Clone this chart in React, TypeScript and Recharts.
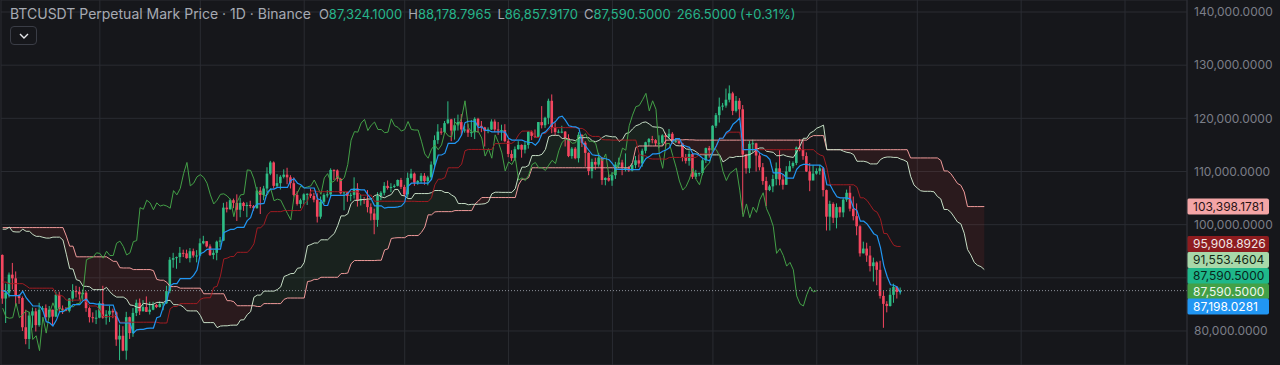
import React from "react";
import {
  ComposedChart,
  Bar,
  Line,
  Area,
  XAxis,
  YAxis,
  CartesianGrid,
  ReferenceLine,
} from "recharts";

// Daily mark-price candles, thousands of USDT, 2024-12-14 .. 2025-11-26
const firstDay = "2024-12-14";

const opens = [
  // Dec 14-31
  101.4, 101.4, 104.3, 106.1, 106.0, 100.2, 97.5, 97.8, 97.3, 95.2,
  94.9, 98.7, 99.4, 95.8, 94.2, 95.2, 93.6, 92.8,
  // Jan
  93.6, 94.6, 97.0, 98.1, 98.2, 98.3, 102.2, 96.9, 95.0, 92.5,
  94.7, 94.5, 94.5, 94.5, 96.5, 100.5, 99.9, 104.1, 104.6, 101.3,
  102.0, 106.1, 103.7, 104.0, 104.7, 104.7, 102.6, 102.1, 101.3, 103.7,
  104.7,
  // Feb
  102.4, 100.6, 97.7, 101.4, 97.9, 96.6, 96.6, 96.5, 96.5, 96.4,
  97.4, 95.8, 97.9, 96.6, 97.5, 97.6, 96.1, 95.8, 95.6, 96.6,
  98.3, 96.2, 96.6, 96.3, 91.6, 88.7, 84.3, 84.7,
  // Mar
  84.4, 86.1, 94.3, 86.1, 87.2, 90.6, 89.9, 86.7, 86.2, 80.7,
  78.5, 82.9, 83.7, 81.1, 84.0, 84.3, 82.6, 84.0, 82.7, 86.8,
  84.2, 84.0, 83.8, 86.1, 87.5, 87.4, 86.9, 87.2, 84.3, 82.6,
  82.4,
  // Apr
  82.5, 85.2, 82.5, 83.1, 83.8, 83.5, 78.4, 79.1, 76.3, 82.6,
  79.6, 83.4, 85.3, 83.7, 84.5, 83.6, 84.0, 84.9, 84.5, 85.1,
  85.2, 87.5, 93.4, 93.7, 93.9, 94.7, 94.6, 93.7, 95.0, 94.2,
  // May
  94.2, 96.5, 96.9, 95.9, 94.3, 94.7, 96.8, 97.0, 103.2, 102.9,
  104.6, 104.1, 102.8, 104.1, 103.5, 103.7, 103.5, 103.1, 106.4, 105.6,
  106.8, 109.6, 111.7, 107.3, 107.8, 109.0, 109.4, 108.9, 107.8, 105.6,
  103.9,
  // Jun
  104.6, 105.7, 105.8, 105.4, 104.7, 101.5, 104.3, 105.6, 105.7, 110.3,
  110.2, 108.6, 105.9, 106.1, 105.4, 105.6, 106.8, 104.5, 104.8, 104.6,
  103.3, 102.1, 100.9, 105.4, 106.0, 107.3, 106.9, 107.1, 107.3, 108.4,
  // Jul
  107.1, 105.7, 108.8, 109.6, 107.9, 108.2, 109.2, 108.2, 108.9, 111.3,
  115.9, 117.5, 117.4, 119.1, 119.8, 117.7, 118.7, 119.3, 117.9, 117.9,
  117.3, 117.4, 119.9, 118.6, 118.3, 117.6, 117.9, 119.4, 117.9, 117.8,
  117.8,
  // Aug
  115.7, 113.3, 112.5, 114.2, 115.0, 114.1, 115.0, 117.5, 116.7, 116.5,
  119.3, 118.7, 120.1, 123.3, 118.3, 117.4, 117.5, 117.5, 116.3, 112.9,
  114.3, 112.5, 116.9, 115.4, 113.5, 110.1, 111.8, 111.3, 112.6, 108.4,
  108.8,
  // Sep
  108.3, 109.3, 111.3, 111.7, 110.7, 110.7, 110.2, 111.2, 112.1, 111.5,
  113.9, 115.5, 116.1, 115.9, 115.3, 115.4, 116.8, 116.5, 117.1, 115.7,
  115.7, 115.3, 112.7, 112.0, 113.3, 109.0, 109.7, 109.7, 112.1, 114.4,
  // Oct
  114.0, 118.6, 120.6, 122.2, 122.4, 123.5, 124.7, 121.4, 123.3, 121.7,
  113.2, 110.6, 115.2, 115.3, 113.0, 110.8, 108.2, 106.5, 107.2, 108.6,
  110.6, 108.5, 107.5, 110.0, 111.0, 111.6, 114.5, 114.1, 112.9, 110.0,
  108.3,
  // Nov
  109.6, 110.1, 110.6, 106.5, 101.5, 103.9, 101.3, 103.3, 102.3, 104.7,
  106.0, 103.0, 101.6, 99.7, 94.6, 95.5, 94.2, 92.2, 92.9, 91.5,
  86.6, 85.1, 84.7, 86.8, 88.3, 87.3241,
];

const highs = [
  // Dec 14-31
  102.6, 105.1, 107.8, 108.4, 106.5, 102.8, 98.2, 99.5, 97.4, 96.4,
  99.5, 99.9, 99.9, 97.3, 95.5, 95.2, 94.9, 96.2,
  // Jan
  94.9, 97.8, 98.9, 98.7, 98.8, 102.5, 102.7, 97.2, 95.3, 95.8,
  95.0, 95.4, 95.9, 97.4, 100.7, 100.9, 105.9, 104.9, 106.3, 109.6,
  107.2, 106.4, 106.9, 107.1, 105.3, 105.5, 103.2, 103.8, 104.8, 106.5,
  106.1,
  // Feb
  102.8, 101.5, 102.5, 101.7, 99.0, 99.2, 100.1, 96.9, 97.3, 98.3,
  98.5, 98.1, 98.0, 98.8, 97.9, 97.7, 97.0, 96.0, 96.9, 98.7,
  99.5, 96.9, 96.9, 96.5, 92.5, 89.3, 87.0, 85.1,
  // Mar
  86.6, 95.0, 94.4, 88.9, 91.0, 92.8, 91.2, 86.9, 86.5, 84.0,
  83.6, 84.4, 84.3, 85.3, 84.7, 85.0, 84.7, 84.0, 87.4, 87.4,
  84.8, 84.5, 86.2, 88.8, 88.5, 88.3, 87.8, 87.5, 84.6, 83.5,
  83.9,
  // Apr
  85.6, 88.5, 83.9, 84.7, 84.2, 83.7, 81.2, 80.9, 83.6, 82.7,
  84.3, 85.9, 86.1, 85.8, 86.5, 85.5, 85.5, 85.1, 85.6, 85.3,
  88.5, 93.9, 94.7, 94.0, 95.8, 95.3, 95.3, 95.6, 95.5, 95.2,
  // May
  97.4, 97.9, 96.9, 96.3, 95.2, 97.0, 97.7, 104.1, 104.3, 104.9,
  104.9, 105.7, 105.0, 104.3, 104.2, 104.5, 103.7, 107.1, 107.1, 107.3,
  110.8, 112.0, 111.9, 109.5, 109.3, 110.4, 110.7, 109.3, 108.9, 106.3,
  104.9,
  // Jun
  105.9, 105.9, 106.8, 106.0, 105.9, 105.3, 105.9, 106.5, 110.6, 110.4,
  110.4, 108.8, 106.2, 106.2, 106.0, 108.9, 107.8, 105.6, 105.2, 106.5,
  104.0, 103.0, 106.1, 106.3, 108.0, 108.3, 107.8, 107.6, 108.5, 108.8,
  // Jul
  107.5, 109.8, 110.5, 109.8, 108.4, 109.7, 109.7, 109.2, 111.9, 116.8,
  118.9, 118.2, 119.5, 123.2, 119.9, 120.0, 120.7, 120.8, 118.6, 118.9,
  119.7, 120.2, 120.1, 119.5, 118.4, 118.3, 119.8, 119.8, 119.3, 118.8,
  118.9,
  // Aug
  116.1, 114.0, 114.7, 115.7, 115.1, 115.7, 117.6, 117.7, 117.9, 119.3,
  122.3, 120.3, 123.7, 124.5, 119.2, 117.9, 118.6, 117.6, 117.0, 114.6,
  114.6, 117.4, 117.0, 115.7, 113.6, 112.4, 112.6, 113.5, 112.7, 108.9,
  109.5,
  // Sep
  109.9, 111.8, 112.6, 112.2, 113.4, 111.0, 111.6, 112.9, 113.2, 114.3,
  115.6, 116.3, 116.7, 116.1, 116.8, 117.0, 117.3, 118.0, 117.4, 116.3,
  115.8, 115.4, 113.3, 114.0, 113.4, 110.3, 109.8, 112.3, 114.5, 114.8,
  // Oct
  118.7, 121.0, 123.9, 122.9, 125.6, 126.2, 125.0, 124.2, 123.8, 122.5,
  113.3, 115.8, 116.0, 115.4, 113.6, 111.6, 109.0, 107.5, 109.4, 111.7,
  114.0, 109.5, 111.0, 112.0, 111.9, 114.7, 116.1, 116.0, 113.6, 111.6,
  111.2,
  // Nov
  110.6, 111.2, 110.8, 106.6, 104.5, 104.2, 104.0, 103.4, 105.0, 106.6,
  107.3, 105.3, 104.0, 99.9, 96.8, 96.6, 96.0, 93.8, 93.1, 93.2,
  87.5, 85.6, 88.1, 88.9, 88.4, 88.1788,
];

const lows = [
  // Dec 14-31
  100.6, 101.2, 103.3, 105.3, 100.0, 95.7, 92.2, 96.4, 94.2, 92.4,
  93.4, 97.6, 95.2, 93.4, 94.0, 93.0, 91.9, 92.5,
  // Jan
  92.8, 94.3, 96.0, 97.5, 97.3, 97.9, 96.1, 92.5, 91.2, 92.2,
  93.8, 93.7, 89.3, 94.3, 96.5, 97.3, 99.9, 102.3, 99.6, 99.5,
  100.1, 103.3, 101.3, 102.8, 104.1, 102.5, 97.8, 100.3, 101.3, 103.3,
  101.6,
  // Feb
  100.3, 96.2, 91.2, 96.2, 96.2, 95.7, 95.6, 95.7, 94.7, 95.3,
  94.9, 94.1, 95.2, 96.3, 97.3, 96.0, 95.2, 93.4, 95.1, 96.4,
  94.8, 96.1, 95.2, 91.2, 86.1, 82.3, 82.8, 78.3,
  // Mar
  83.9, 85.0, 85.1, 81.5, 86.3, 87.8, 84.7, 85.1, 80.0, 77.5,
  76.6, 80.6, 79.9, 80.8, 83.7, 82.0, 82.5, 81.1, 82.6, 83.6,
  83.2, 83.7, 83.5, 85.5, 86.3, 85.9, 85.8, 83.6, 81.6, 81.6,
  81.3,
  // Apr
  82.4, 82.3, 81.2, 81.7, 82.4, 77.2, 74.5, 76.2, 74.6, 78.5,
  78.9, 82.8, 83.0, 83.7, 83.6, 83.1, 83.9, 84.3, 84.4, 83.9,
  85.1, 87.1, 91.9, 91.7, 92.8, 93.9, 93.6, 92.9, 93.8, 92.9,
  // May
  94.1, 96.3, 95.7, 94.1, 93.5, 93.3, 95.8, 96.9, 102.3, 102.8,
  103.1, 100.7, 101.4, 102.6, 101.4, 103.1, 102.6, 103.0, 102.0, 104.6,
  106.1, 109.3, 106.8, 106.9, 106.6, 108.7, 107.6, 106.8, 105.3, 103.6,
  103.1,
  // Jun
  103.8, 103.7, 105.0, 104.2, 100.4, 101.1, 103.9, 105.1, 105.3, 108.4,
  108.1, 105.7, 102.7, 104.3, 104.4, 104.9, 103.4, 103.6, 103.9, 102.3,
  100.8, 98.2, 99.6, 104.6, 105.5, 106.6, 106.1, 106.9, 107.2, 106.7,
  // Jul
  105.3, 105.1, 108.5, 107.3, 107.5, 107.8, 107.5, 107.4, 108.4, 110.6,
  115.2, 116.9, 117.3, 118.9, 115.7, 116.0, 117.7, 116.8, 117.3, 116.5,
  116.5, 116.1, 117.3, 117.4, 114.7, 117.2, 117.8, 117.4, 116.9, 115.8,
  115.5,
  // Aug
  112.7, 112.0, 112.0, 114.1, 112.6, 113.4, 114.3, 115.9, 116.3, 116.5,
  118.1, 118.2, 118.9, 117.2, 116.8, 117.2, 117.2, 114.7, 112.7, 112.4,
  112.3, 111.7, 114.6, 110.9, 109.3, 108.7, 110.3, 110.9, 107.5, 107.4,
  108.1,
  // Sep
  107.3, 108.6, 110.6, 109.3, 110.0, 109.9, 110.0, 110.6, 110.8, 110.9,
  113.4, 114.8, 115.3, 114.8, 114.4, 114.8, 114.7, 116.1, 115.2, 115.4,
  115.2, 111.9, 111.5, 111.1, 108.6, 108.6, 109.1, 109.3, 111.6, 112.6,
  // Oct
  113.9, 118.2, 119.2, 121.5, 122.0, 123.0, 120.6, 121.1, 119.7, 102.0,
  109.6, 109.7, 113.6, 110.0, 110.2, 107.5, 103.5, 106.3, 106.1, 107.4,
  107.4, 106.6, 107.5, 109.9, 110.6, 111.2, 113.8, 112.2, 109.9, 106.3,
  108.7,
  // Nov
  109.4, 109.4, 105.3, 98.9, 98.9, 100.3, 99.3, 101.4, 101.4, 104.3,
  102.5, 100.8, 98.0, 94.0, 94.6, 93.0, 91.2, 89.3, 88.6, 86.1,
  80.6, 83.5, 84.6, 85.3, 86.1, 86.8579,
];

const closes = [
  // Dec 14-31
  101.4, 104.3, 106.1, 106.0, 100.2, 97.5, 97.8, 97.3, 95.2, 94.9,
  98.7, 99.4, 95.8, 94.2, 95.2, 93.6, 92.8, 93.6,
  // Jan
  94.6, 97.0, 98.1, 98.2, 98.3, 102.2, 96.9, 95.0, 92.5, 94.7,
  94.5, 94.5, 94.5, 96.5, 100.5, 99.9, 104.1, 104.6, 101.3, 102.0,
  106.1, 103.7, 104.0, 104.7, 104.7, 102.6, 102.1, 101.3, 103.7, 104.7,
  102.4,
  // Feb
  100.6, 97.7, 101.4, 97.9, 96.6, 96.6, 96.5, 96.5, 96.4, 97.4,
  95.8, 97.9, 96.6, 97.5, 97.6, 96.1, 95.8, 95.6, 96.6, 98.3,
  96.2, 96.6, 96.3, 91.6, 88.7, 84.3, 84.7, 84.4,
  // Mar
  86.1, 94.3, 86.1, 87.2, 90.6, 89.9, 86.7, 86.2, 80.7, 78.5,
  82.9, 83.7, 81.1, 84.0, 84.3, 82.6, 84.0, 82.7, 86.8, 84.2,
  84.0, 83.8, 86.1, 87.5, 87.4, 86.9, 87.2, 84.3, 82.6, 82.4,
  82.5,
  // Apr
  85.2, 82.5, 83.1, 83.8, 83.5, 78.4, 79.1, 76.3, 82.6, 79.6,
  83.4, 85.3, 83.7, 84.5, 83.6, 84.0, 84.9, 84.5, 85.1, 85.2,
  87.5, 93.4, 93.7, 93.9, 94.7, 94.6, 93.7, 95.0, 94.2, 94.2,
  // May
  96.5, 96.9, 95.9, 94.3, 94.7, 96.8, 97.0, 103.2, 102.9, 104.6,
  104.1, 102.8, 104.1, 103.5, 103.7, 103.5, 103.1, 106.4, 105.6, 106.8,
  109.6, 111.7, 107.3, 107.8, 109.0, 109.4, 108.9, 107.8, 105.6, 103.9,
  104.6,
  // Jun
  105.7, 105.8, 105.4, 104.7, 101.5, 104.3, 105.6, 105.7, 110.3, 110.2,
  108.6, 105.9, 106.1, 105.4, 105.6, 106.8, 104.5, 104.8, 104.6, 103.3,
  102.1, 100.9, 105.4, 106.0, 107.3, 106.9, 107.1, 107.3, 108.4, 107.1,
  // Jul
  105.7, 108.8, 109.6, 107.9, 108.2, 109.2, 108.2, 108.9, 111.3, 115.9,
  117.5, 117.4, 119.1, 119.8, 117.7, 118.7, 119.3, 117.9, 117.9, 117.3,
  117.4, 119.9, 118.6, 118.3, 117.6, 117.9, 119.4, 117.9, 117.8, 117.8,
  115.7,
  // Aug
  113.3, 112.5, 114.2, 115.0, 114.1, 115.0, 117.5, 116.7, 116.5, 119.3,
  118.7, 120.1, 123.3, 118.3, 117.4, 117.5, 117.5, 116.3, 112.9, 114.3,
  112.5, 116.9, 115.4, 113.5, 110.1, 111.8, 111.3, 112.6, 108.4, 108.8,
  108.3,
  // Sep
  109.3, 111.3, 111.7, 110.7, 110.7, 110.2, 111.2, 112.1, 111.5, 113.9,
  115.5, 116.1, 115.9, 115.3, 115.4, 116.8, 116.5, 117.1, 115.7, 115.7,
  115.3, 112.7, 112.0, 113.3, 109.0, 109.7, 109.7, 112.1, 114.4, 114.0,
  // Oct
  118.6, 120.6, 122.2, 122.4, 123.5, 124.7, 121.4, 123.3, 121.7, 113.2,
  110.6, 115.2, 115.3, 113.0, 110.8, 108.2, 106.5, 107.2, 108.6, 110.6,
  108.5, 107.5, 110.0, 111.0, 111.6, 114.5, 114.1, 112.9, 110.0, 108.3,
  109.6,
  // Nov
  110.1, 110.6, 106.5, 101.5, 103.9, 101.3, 103.3, 102.3, 104.7, 106.0,
  103.0, 101.6, 99.7, 94.6, 95.5, 94.2, 92.2, 92.9, 91.5, 86.6,
  85.1, 84.7, 86.8, 88.3, 87.3241, 87.5905,
];

// values printed in the price-scale tags (spanB, base, spanA, price, lagging, conversion)
const tagValues = [103398.1781, 95908.8926, 91553.4604, 87590.5, 87590.5, 87198.0281];
const priceTicks = [80, 90, 100, 110, 120, 130, 140];

const legend = [
  ["O", "87,324.1000"],
  ["H", "88,178.7965"],
  ["L", "86,857.9170"],
  ["C", "87,590.5000"],
];
const change = "266.5000 (+0.31%)";

// Ichimoku settings
const CONV = 9;
const BASE = 26;
const SPAN_B = 52;
const SHIFT = 25;

const FIRST_ROW = "2025-03-03";
const SLOTS = 354;

const BG = "#16171b";
const GRID = "#2a2c32";
const UP = "#2ebd85";
const DOWN = "#f4465f";
const FONT = "Inter, 'Noto Sans', sans-serif";

const DAY = 86400000;
const t0 = Date.parse(firstDay + "T00:00:00Z");
const dateAt = (i: number) => new Date(t0 + i * DAY).toISOString().slice(0, 10);

function mid(i: number, len: number) {
  if (i - len + 1 < 0) return null;
  let hi = -Infinity;
  let lo = Infinity;
  for (let k = i - len + 1; k <= i; k++) {
    hi = Math.max(hi, highs[k]);
    lo = Math.min(lo, lows[k]);
  }
  return (hi + lo) / 2;
}

const firstIndex = Math.round((Date.parse(FIRST_ROW + "T00:00:00Z") - t0) / DAY);

const rows: any[] = [];
for (let r = 0; r < SLOTS; r++) {
  const i = firstIndex + r;
  const row: any = { date: dateAt(i) };
  if (i < closes.length) {
    row.o = opens[i];
    row.h = highs[i];
    row.l = lows[i];
    row.c = closes[i];
    row.range = [lows[i], highs[i]];
    row.conv = mid(i, CONV);
    row.base = mid(i, BASE);
  }
  const j = i - SHIFT;
  if (j >= 0 && j < closes.length) {
    const a = ((mid(j, CONV) as number) + (mid(j, BASE) as number)) / 2;
    const b = mid(j, SPAN_B) as number;
    const top = Math.max(a, b);
    row.spanA = a;
    row.spanB = b;
    row.cloudUp = [b, top];
    row.cloudDown = [a, top];
  }
  if (i + SHIFT < closes.length) row.lag = closes[i + SHIFT];
  rows.push(row);
}

const monthTicks = rows.filter((r) => r.date.endsWith("-01")).map((r) => r.date);

const fmt = (v: number) =>
  v.toLocaleString("en-US", { minimumFractionDigits: 4, maximumFractionDigits: 4 });

function Candle(props: any) {
  const { x, y, width, height, payload } = props;
  if (!payload || payload.o == null) return null;
  const { o, h, l, c } = payload;
  const top = Math.min(y, y + height);
  const span = Math.abs(height);
  const per = h > l ? span / (h - l) : 0;
  const yo = top + (h - o) * per;
  const yc = top + (h - c) * per;
  const color = c >= o ? UP : DOWN;
  const cx = x + width / 2;
  return (
    <g>
      <line x1={cx} x2={cx} y1={top} y2={top + span} stroke={color} strokeWidth={1} />
      <rect
        x={x}
        y={Math.min(yo, yc)}
        width={width}
        height={Math.max(1, Math.abs(yo - yc))}
        fill={color}
      />
    </g>
  );
}

// tag looks, same order as tagValues; dy spreads the overlapping tags apart
const tagStyles = [
  { bg: "#f4a5a6", fg: "#2b1416", dy: 0 },
  { bg: "#8e1c1f", fg: "#f1e6e6", dy: -2.4 },
  { bg: "#a8d8a9", fg: "#122915", dy: -9.6 },
  { bg: "#1fb88a", fg: "#08261c", dy: -14.6 },
  { bg: "#43a047", fg: "#eef7ee", dy: 0.9 },
  { bg: "#2196f3", fg: "#ffffff", dy: 13.8 },
];

function tag(text: string, bg: string, fg: string, dy: number) {
  return (p: any) => {
    const vb = p.viewBox || {};
    const x = (vb.x ?? 0) + (vb.width ?? 0);
    const y = (vb.y ?? 0) + dy;
    return (
      <g>
        <rect x={x} y={y - 8} width={82} height={16} rx={2} fill={bg} />
        <text x={x + 6} y={y + 4.3} fill={fg} fontSize={12} fontFamily={FONT}>
          {text}
        </text>
      </g>
    );
  };
}

export default function App() {
  return (
    <div style={{ position: "relative", width: 1280, height: 365, background: BG, overflow: "hidden" }}>
      <style>{`body{margin:0;background:${BG};}`}</style>
      <ComposedChart
        width={1280}
        height={365}
        data={rows}
        margin={{ top: 0, right: 0, bottom: 0, left: 1 }}
      >
        <CartesianGrid stroke={GRID} />
        <XAxis dataKey="date" hide ticks={monthTicks} interval={0} />
        <YAxis
          orientation="right"
          width={93}
          domain={[73.6, 142.26]}
          allowDataOverflow
          ticks={priceTicks}
          interval={0}
          tickLine={false}
          tickSize={0}
          tickMargin={7}
          axisLine={{ stroke: GRID }}
          tick={{ fill: "#7b7e88", fontSize: 12, fontFamily: FONT }}
          tickFormatter={(v: number) => (v === 90 ? "" : fmt(v * 1000))}
        />
        <Area
          dataKey="cloudUp"
          stroke="none"
          fill="rgba(67,160,71,0.13)"
          isAnimationActive={false}
          activeDot={false}
        />
        <Area
          dataKey="cloudDown"
          stroke="none"
          fill="rgba(244,67,54,0.15)"
          isAnimationActive={false}
          activeDot={false}
        />
        <Line dataKey="spanB" stroke="#ef9a9a" strokeWidth={1} dot={false} isAnimationActive={false} />
        <Line dataKey="spanA" stroke="#c5dcc4" strokeWidth={1} dot={false} isAnimationActive={false} />
        <Bar dataKey="range" barSize={2.6} isAnimationActive={false} shape={(p: any) => <Candle {...p} />} />
        <Line dataKey="lag" stroke="#43a047" strokeWidth={1} dot={false} isAnimationActive={false} />
        <Line dataKey="base" stroke="#a01c22" strokeWidth={1} dot={false} isAnimationActive={false} />
        <Line dataKey="conv" stroke="#2196f3" strokeWidth={1.2} dot={false} isAnimationActive={false} />
        <ReferenceLine
          y={closes[closes.length - 1]}
          stroke="#8d929b"
          strokeDasharray="1 2"
        />
        {tagValues.map((v, k) => (
          <ReferenceLine
            key={k}
            y={v / 1000}
            stroke="none"
            label={tag(fmt(v), tagStyles[k].bg, tagStyles[k].fg, tagStyles[k].dy)}
          />
        ))}
      </ComposedChart>

      <div
        style={{
          position: "absolute",
          left: 10,
          top: 5,
          display: "flex",
          alignItems: "baseline",
          whiteSpace: "nowrap",
          fontFamily: FONT,
          fontSize: 14,
          color: "#a7aab3",
        }}
      >
        <span>BTCUSDT Perpetual Mark Price · 1D · Binance</span>
        <span style={{ marginLeft: 8, fontSize: 13 }}>
          {legend.map(([k, v]) => (
            <span key={k} style={{ marginRight: 6 }}>
              <span style={{ color: "#a7aab3" }}>{k}</span>
              <span style={{ color: "#26b58b" }}>{v}</span>
            </span>
          ))}
          <span style={{ color: "#26b58b" }}>{change}</span>
        </span>
      </div>
      <div
        style={{
          position: "absolute",
          left: 10,
          top: 26,
          width: 27,
          height: 19,
          border: "1px solid #3a3d46",
          borderRadius: 4,
          boxSizing: "border-box",
          display: "flex",
          alignItems: "center",
          justifyContent: "center",
        }}
      >
        <svg width="10" height="6" viewBox="0 0 10 6">
          <path d="M1 1 L5 5 L9 1" fill="none" stroke="#e6e7ea" strokeWidth="1.4" />
        </svg>
      </div>
    </div>
  );
}
